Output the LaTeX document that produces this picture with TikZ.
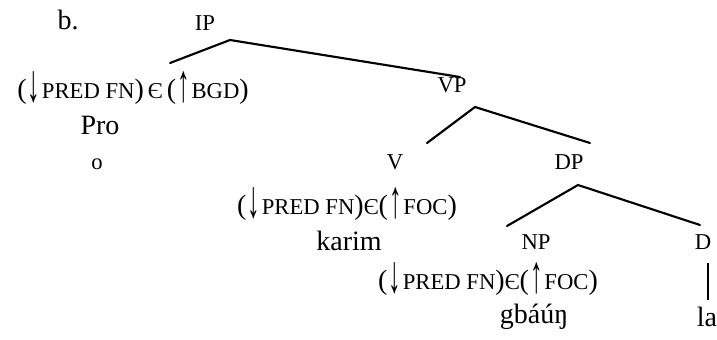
\documentclass[tikz,border=0pt]{standalone}
\usepackage{fontspec}
\setmainfont{Liberation Serif}
\newcommand{\bigtxt}{\fontsize{21pt}{24pt}\selectfont}
\newcommand{\smtxt}{\fontsize{17pt}{20pt}\selectfont}
% tall thin arrows for the functional annotations
\newcommand{\dnarr}{\kern0.04em\raisebox{-0.1em}{\scalebox{0.9}[1.9]{↓}}\kern0.06em}
\newcommand{\uparr}{\kern0.04em\raisebox{-0.1em}{\scalebox{0.9}[1.9]{↑}}\kern0.06em}
\newcommand{\fstruct}[2]{{\bigtxt(\dnarr\smtxt PRED FN\bigtxt)}#1{\smtxt Є}#1{\bigtxt(\uparr\smtxt #2\bigtxt)}}
\begin{document}
\begin{tikzpicture}[x=0.75pt,y=-0.75pt,
  lbl/.style={inner sep=0pt,font=\smtxt},
  word/.style={inner sep=0pt,font=\bigtxt},
  branch/.style={line width=1.6pt,line cap=round}]
\useasboundingbox (0,0) rectangle (717,339);

% labels of the tree
\node[word] (ex) at (68,20) {b.};
\node[lbl] (ip) at (205,23) {IP};
\node[inner sep=0pt] (bgd) at (133,88) {\fstruct{\hspace{0.3em}}{BGD}};
\node[word] (pro) at (100,125) {Pro};
\node[lbl] (o) at (97,164) {o};
\node[lbl] (vp) at (452,85) {VP};
\node[lbl] (v) at (395,162) {V};
\node[lbl] (dp) at (569,162) {DP};
\node[inner sep=0pt] (foc1) at (347,204) {\fstruct{}{FOC}};
\node[word] (karim) at (349,241) {karim};
\node[lbl] (np) at (536,242) {NP};
\node[lbl] (d) at (703,242) {D};
\node[inner sep=0pt] (foc2) at (488,279) {\fstruct{}{FOC}};
\node[word] (gbaun) at (534,317) {gbáúŋ};
\node[word] (la) at (707,317) {la};

% branch points
\coordinate (ipTop) at (230,40);
\coordinate (ipL) at (170,63);
\coordinate (ipR) at (460,77);
\coordinate (vpTop) at (475,107);
\coordinate (vpL) at (427,143);
\coordinate (vpR) at (590,143);
\coordinate (dpTop) at (578,185);
\coordinate (dpL) at (507,226);
\coordinate (dpR) at (700,225);
\coordinate (dTop) at (708,263);
\coordinate (dBot) at (708,300);

\draw[branch] (ipL) -- (ipTop) -- (ipR);
\draw[branch] (vpL) -- (vpTop) -- (vpR);
\draw[branch] (dpL) -- (dpTop) -- (dpR);
\draw[line width=1.4pt] (dTop) -- (dBot);
\end{tikzpicture}
\end{document}
